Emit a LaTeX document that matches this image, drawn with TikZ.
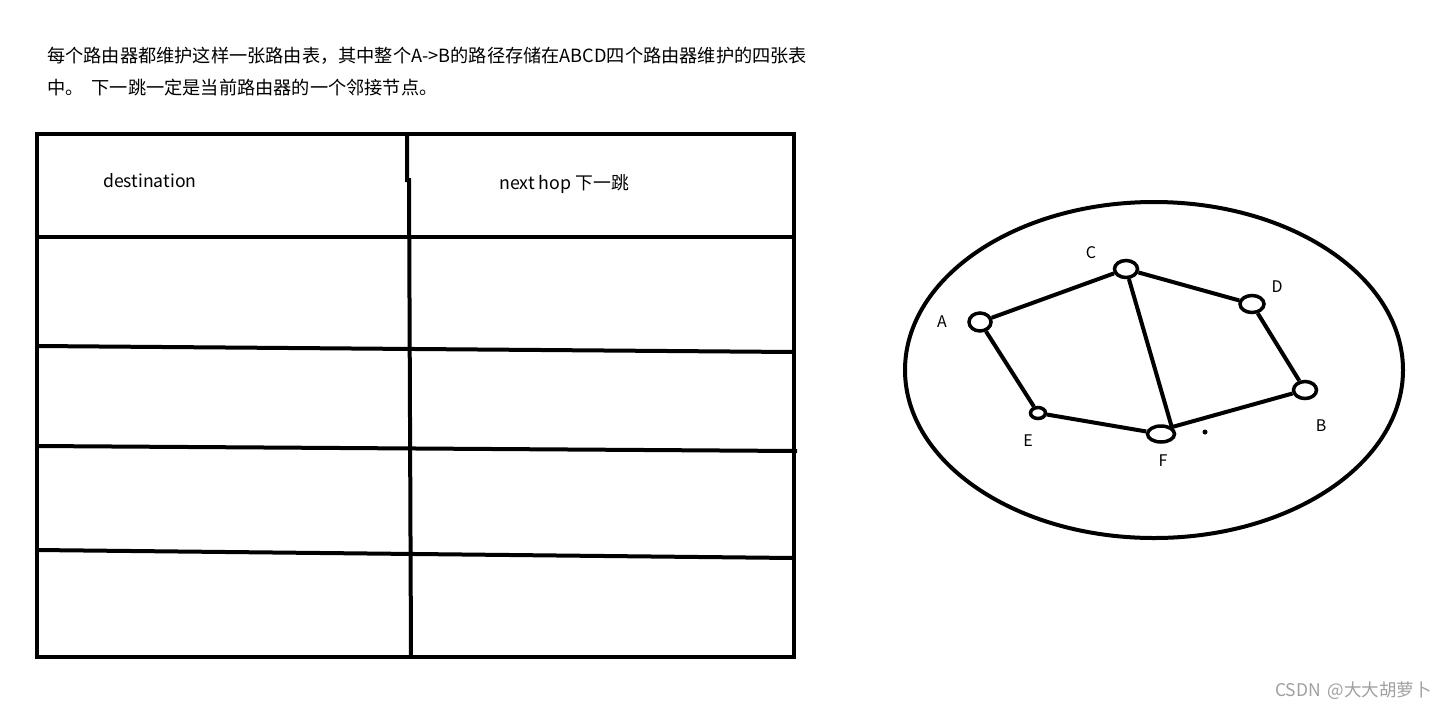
\documentclass[tikz,border=0pt]{standalone}
\usepackage{fontspec}
\setmainfont{Noto Sans CJK SC}
\usetikzlibrary{shapes.geometric}
\definecolor{wm}{RGB}{160,160,160}
\begin{document}
\begin{tikzpicture}[x=1pt,y=-1pt,
  tbl/.style={line width=4pt},
  router/.style={draw, ellipse, line width=3.5pt, inner sep=0pt},
  link/.style={line width=4pt},
  lbl/.style={font=\fontsize{16}{18}\selectfont, inner sep=0pt},
  txt/.style={font=\fontsize{18.2}{20}\selectfont, inner sep=0pt, anchor=west}]
\useasboundingbox[fill=white] (0,0) rectangle (1445,710);
% heading text
\node[txt] (t1) at (47,56) {每个路由器都维护这样一张路由表，其中整个A->B的路径存储在ABCD四个路由器维护的四张表};
\node[txt] (t2) at (47,88) {中。\ \ 下一跳一定是当前路由器的一个邻接节点。};
% table
\draw[tbl] (37,134) rectangle (794,657);
\draw[tbl] (407,134) -- (407,180) -- (409,180) -- (411,657);
\draw[tbl] (37,237) -- (794,237);
\draw[tbl] (37,346) -- (794,352);
\draw[tbl] (37,446) -- (797,451);
\draw[tbl] (37,550) -- (794,558);
\node[lbl, font=\fontsize{17.6}{19}\selectfont, anchor=west] (dst) at (103,181) {destination};
\node[lbl, font=\fontsize{17.8}{19}\selectfont, anchor=west] (nh) at (499,184) {next hop 下一跳};
% network
\draw[line width=4pt] (1154,370) ellipse [x radius=249, y radius=168];
\node[router, minimum width=22pt, minimum height=18pt] (A) at (980,322) {};
\node[router, minimum width=23pt, minimum height=17pt] (C) at (1126,269) {};
\node[router, minimum width=24pt, minimum height=17pt] (D) at (1252,304) {};
\node[router, minimum width=23pt, minimum height=17pt] (B) at (1305,390) {};
\node[router, minimum width=15pt, minimum height=11pt] (E) at (1038,413) {};
\node[router, minimum width=27pt, minimum height=16pt] (F) at (1161,434) {};
\draw[link] (A) -- (C);
\draw[link] (C) -- (D);
\draw[link] (C) -- (F.north east);
\draw[link] (D) -- (B);
\draw[link] (A) -- (E);
\draw[link] (E) -- (F);
\draw[link] (F.north east) -- (B);
\fill (1205,432) circle (2.5);
\node[lbl] (lA) at (942,322) {A};
\node[lbl] (lC) at (1091,253) {C};
\node[lbl] (lD) at (1277,287) {D};
\node[lbl] (lB) at (1321,426) {B};
\node[lbl] (lE) at (1028,441) {E};
\node[lbl] (lF) at (1163,461) {F};
% watermark
\node[font=\fontsize{17.5}{19}\selectfont, text=wm, inner sep=0pt, anchor=east] (wm) at (1432,691) {CSDN\ \,@大大胡萝卜};
\end{tikzpicture}
\end{document}
